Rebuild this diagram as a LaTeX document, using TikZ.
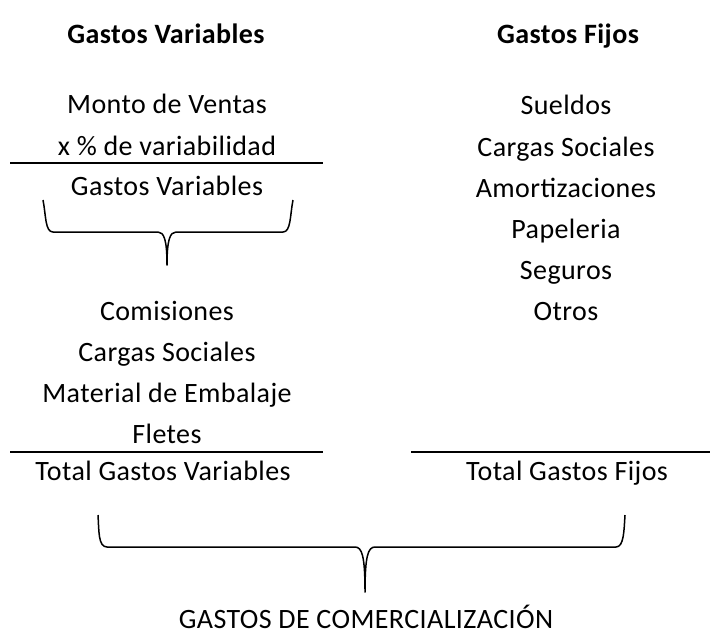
\documentclass[tikz,border=0pt]{standalone}
\usepackage{fontspec}
\setmainfont{Carlito}[LetterSpace=1.5]
\begin{document}
\begin{tikzpicture}[
   x=0.5pt,y=-0.5pt,
   every node/.style={font=\fontsize{14}{17}\selectfont,anchor=base,inner sep=0pt},
   title/.style={font=\fontsize{14}{17}\selectfont\bfseries},
   rule/.style={line width=1pt},
   brace/.style={line width=0.75pt,line join=round}]
\useasboundingbox (0,0) rectangle (710,639);
% titles
\node[title] (tv) at (166,43) {Gastos Variables};
\node[title] (tf) at (568,43) {Gastos Fijos};
% variable column
\node (mv) at (167,113) {Monto de Ventas};
\node (pv) at (167,155) {x \% de variabilidad};
\coordinate (r1a) at (10,163);
\coordinate (r1b) at (323,163);
\draw[rule] (r1a) -- (r1b);
\node (gv) at (167,195) {Gastos Variables};
\coordinate (b1l) at (43,200);
\coordinate (b1r) at (293,200);
\coordinate (b1t) at (167,265);
\draw[brace] (b1l) .. controls (46,215) and (45,232) .. (53,232) -- (158,232)
   .. controls (164,232) and (167,240) .. (b1t)
   .. controls (167,240) and (170,232) .. (176,232) -- (283,232)
   .. controls (291,232) and (290,215) .. (b1r);
\node (co) at (167,320) {Comisiones};
\node (cs) at (167,361) {Cargas Sociales};
\node (me) at (167,402) {Material de Embalaje};
\node (fl) at (167,443) {Fletes};
\coordinate (r2a) at (10,452);
\coordinate (r2b) at (323,452);
\draw[rule] (r2a) -- (r2b);
\node (tgv) at (163,480) {Total Gastos Variables};
% fixed column
\node (su) at (566,114) {Sueldos};
\node (cf) at (566,156) {Cargas Sociales};
\node (am) at (566,197) {Amortizaciones};
\node (pa) at (566,238) {Papeleria};
\node (se) at (566,279) {Seguros};
\node (ot) at (566,320) {Otros};
\coordinate (r3a) at (411,452);
\coordinate (r3b) at (710,452);
\draw[rule] (r3a) -- (r3b);
\node (tgf) at (567,480) {Total Gastos Fijos};
% total
\coordinate (b2l) at (98,515);
\coordinate (b2r) at (625,515);
\coordinate (b2t) at (365,592);
\draw[brace] (b2l) .. controls (99,530) and (98,547) .. (107,547) -- (355,547)
   .. controls (362,547) and (365,556) .. (b2t)
   .. controls (365,556) and (368,547) .. (375,547) -- (616,547)
   .. controls (624,547) and (624,530) .. (b2r);
\node (gc) at (366,628) {GASTOS DE COMERCIALIZACIÓN};
\end{tikzpicture}
\end{document}
